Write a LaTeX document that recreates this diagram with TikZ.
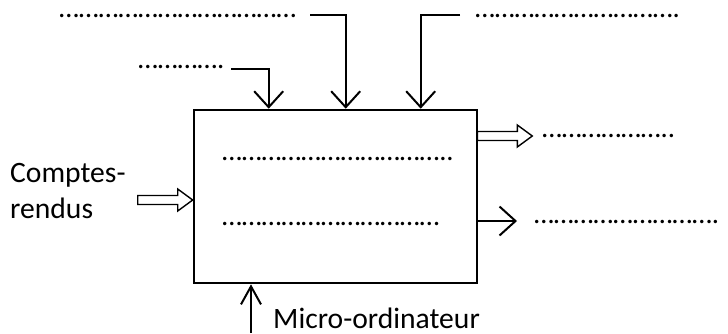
\documentclass[tikz,border=0pt]{standalone}
\usepackage{fontspec}
\setmainfont{Carlito}
\usetikzlibrary{arrows.meta}

% ligne de points a remplir
\newcommand{\pts}[1]{\foreach\k in {1,...,#1}{\char"2026}}

\begin{document}
\begin{tikzpicture}[x=1pt, y=-1pt, every node/.style={font=\fontsize{28.6}{36}\selectfont, inner sep=0pt},
    mot/.style={font=\fontsize{29.6}{36}\selectfont},
    fleche/.style={line width=2pt, -{Straight Barb[length=16pt,width=29pt,line width=2pt]}},
    pics/creuse/.style={code={
        \draw[line width=1.4pt, line join=miter] (0,0) -- (-15,-11) -- (-15,-4.5) -- (-55,-4.5)
            -- (-55,4.5) -- (-15,4.5) -- (-15,11) -- cycle;}}]
        \useasboundingbox (0,0) rectangle (728,333);
        \node[draw, line width=2.6pt, minimum width=283pt, minimum height=173pt] (box) at (335.5,196.5) {};
        % entrees du haut
        \node[anchor=base west] (haut1) at (59,17) {\pts{12}};
        \node[anchor=base west] (haut2) at (475,17) {\pts{10}.};
        \node[anchor=base west] (haut3) at (138,68) {\pts{4}.};
        \coordinate (d1) at (231,69);
        \coordinate (d2) at (310,15);
        \coordinate (d3) at (460,15);
        \draw[fleche] (d1) -| ([xshift=76pt]box.north west);
        \draw[fleche] (d2) -| ([xshift=153pt]box.north west);
        \draw[fleche] (d3) -| ([xshift=228pt]box.north west);
        % texte dans la boite
        \node[anchor=base west] (int1) at (222,160) {\pts{11}..};
        \node[anchor=base west] (int2) at (222,225) {\pts{11}};
        % entree de gauche
        \node[mot, anchor=base west] (cr1) at (10,182) {Comptes-};
        \node[mot, anchor=base west] (cr2) at (10,218) {rendus};
        \pic at (box.west |- 0,200) {creuse};
        % sorties
        \pic at ([xshift=54pt]box.east |- 0,136) {creuse};
        \node[anchor=base west] (sort1) at (542,137) {\pts{6}..};
        \coordinate (s2) at (517,221);
        \draw[fleche] (box.east |- s2) -- (s2);
        \node[anchor=base west] (sort2) at (534,223) {\pts{9}.};
        % support
        \coordinate (m) at (251,333);
        \draw[line width=2pt, -{Straight Barb[length=18pt,width=20pt,line width=2pt]}] (m) -- (box.south -| m);
        \node[mot, anchor=base west] (micro) at (273,328) {Micro-ordinateur};
\end{tikzpicture}
\end{document}
